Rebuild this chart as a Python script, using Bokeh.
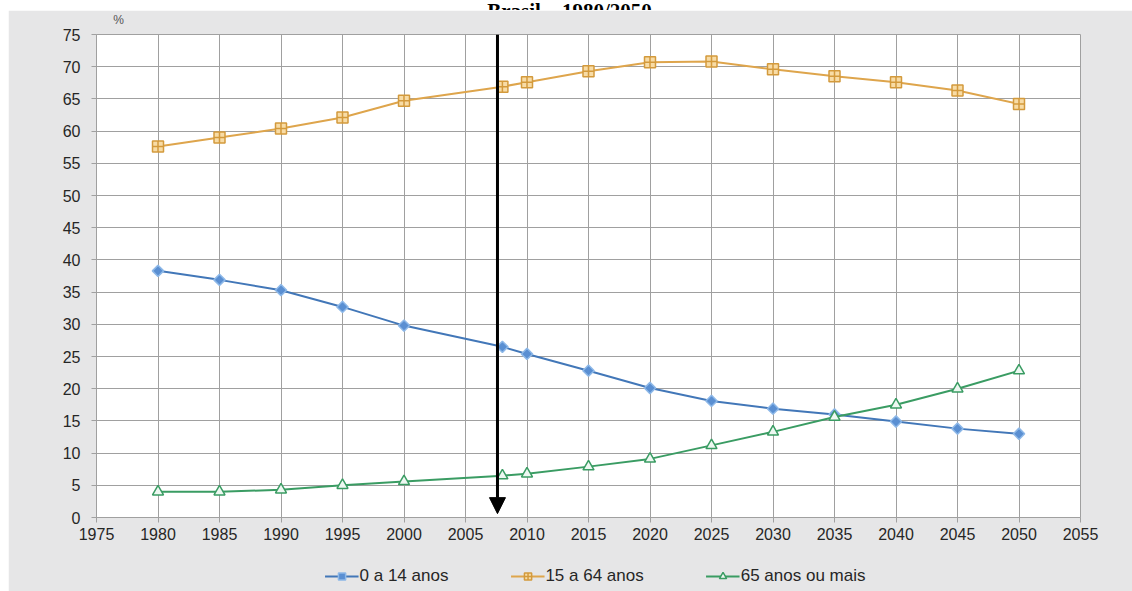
import math
from bokeh.plotting import figure
from bokeh.models import (Range1d, FixedTicker, Legend, LegendItem, Label,
                          Arrow, NormalHead, ColumnDataSource)
from bokeh.embed import file_html
from bokeh.resources import INLINE

# ---- data ----
years = [1980, 1985, 1990, 1995, 2000, 2008, 2010, 2015, 2020, 2025, 2030, 2035, 2040, 2045, 2050]
age_0_14 = [38.3, 36.9, 35.3, 32.7, 29.8, 26.5, 25.4, 22.8, 20.1, 18.1, 16.9, 16.0, 14.9, 13.8, 13.0]
age_15_64 = [57.6, 59.0, 60.4, 62.1, 64.7, 66.9, 67.6, 69.3, 70.7, 70.8, 69.6, 68.5, 67.6, 66.3, 64.2]
age_65 = [4.0, 4.0, 4.3, 5.0, 5.6, 6.5, 6.8, 7.9, 9.1, 11.2, 13.3, 15.6, 17.5, 20.0, 22.8]
series_names = ["0 a 14 anos", "15 a 64 anos", "65 anos ou mais"]
x_ticks = list(range(1975, 2056, 5))
y_ticks = list(range(0, 76, 5))
arrow_year = 2007.6
title_text = "Brasil – 1980/2050"
unit_text = "%"

GRAY_BG = "#e6e6e7"
GRID = "#a0a0a0"
TXT = "#262626"
FONT = "Liberation Sans"

# (column, line colour, marker, fill, marker line, size, angle)
styles = [
    ("a", "#4277b8", "square", "#5a8fd2", "#8db8e8", 8, math.pi / 4),
    ("b", "#dea54c", "square_cross", "#f8dca6", "#d39a3c", 11, 0.0),
    ("c", "#3a9c63", "triangle", "#eef8f2", "#3a9c63", 11, 0.0),
]

src = ColumnDataSource(dict(x=years, a=age_0_14, b=age_15_64, c=age_65))


def blank(w, h, bg, left, top_px):
    f = figure(width=w, height=h, output_backend="svg", toolbar_location=None,
               x_range=Range1d(0, 1), y_range=Range1d(0, 1),
               x_axis_location=None, y_axis_location=None, min_border=0)
    f.styles = {"position": "absolute", "left": f"{left}px", "top": f"{top_px}px"}
    f.border_fill_color = bg
    f.background_fill_color = bg
    f.outline_line_color = None
    f.grid.visible = False
    return f


# ---- strip with the (clipped) heading, on white ----
TOP_H = 10
top = blank(1132, TOP_H, "white", 0, 0)
top.add_layout(Label(x=569 / 1132, y=1.5 / TOP_H, text=title_text, text_align="center",
                     text_baseline="alphabetic", text_font="Liberation Serif",
                     text_font_style="bold", text_font_size="21px", text_color="black"))

# ---- main chart on the gray panel ----
W, H = 1124, 581
L, R, T, B = 88, 52, 24, 74

p = figure(width=W, height=H, output_backend="svg", toolbar_location=None,
           x_range=Range1d(1975, 2055), y_range=Range1d(0, 75),
           min_border_left=L, min_border_right=R, min_border_top=T, min_border_bottom=B)
p.styles = {"margin-left": "8px", "margin-top": f"{TOP_H}px"}
p.border_fill_color = GRAY_BG
p.background_fill_color = "white"
p.outline_line_color = GRID
p.outline_line_width = 1

for ax in (p.xaxis[0], p.yaxis[0]):
    ax.axis_line_color = GRID
    ax.major_tick_line_color = GRID
    ax.major_tick_in = 0
    ax.major_tick_out = 5
    ax.minor_tick_line_color = None
    ax.major_label_text_font = FONT
    ax.major_label_text_font_size = "16px"
    ax.major_label_text_color = TXT
p.xaxis[0].ticker = FixedTicker(ticks=x_ticks)
p.yaxis[0].ticker = FixedTicker(ticks=y_ticks)
p.xaxis[0].major_label_standoff = 5
p.yaxis[0].major_label_standoff = 11

p.xgrid[0].ticker = FixedTicker(ticks=x_ticks)
p.ygrid[0].ticker = FixedTicker(ticks=y_ticks)
for g in (p.xgrid[0], p.ygrid[0]):
    g.grid_line_color = GRID
    g.grid_line_width = 1

for (col, lc, mk, fc, mlc, sz, ang) in styles:
    p.line("x", col, source=src, line_color=lc, line_width=2)
    p.scatter("x", col, source=src, marker=mk, size=sz, angle=ang,
              fill_color=fc, line_color=mlc, line_width=1.5)

# arrow marking 2008
p.add_layout(Arrow(x_start=arrow_year, y_start=75, x_end=arrow_year, y_end=0.6,
                   line_color="black", line_width=3,
                   end=NormalHead(size=16, fill_color="black", line_color="black")))

# ---- "%" unit note above the y axis ----
pct = blank(16, 16, GRAY_BG, 110, 11)
pct.add_layout(Label(x=0.5, y=0.5, text=unit_text, text_align="center",
                     text_baseline="middle", text_font=FONT,
                     text_font_size="12px", text_color="#555555"))

# ---- legend strip below the chart ----
leg = blank(600, 28, GRAY_BG, 295, 562)
items = []
for name, (col, lc, mk, fc, mlc, sz, ang) in zip(series_names, styles):
    ln = leg.line("x", col, source=src, line_color=lc, line_width=2)
    sc = leg.scatter("x", col, source=src, marker=mk, size=sz, angle=ang,
                     fill_color=fc, line_color=mlc, line_width=1.5)
    items.append(LegendItem(label=name, renderers=[ln, sc]))
legend = Legend(items=items, location="center", orientation="horizontal",
                background_fill_alpha=0, border_line_color=None,
                padding=0, margin=0, spacing=62, glyph_width=34, glyph_height=18,
                label_standoff=1, label_text_font=FONT, label_text_font_size="17px",
                label_text_color=TXT)
leg.add_layout(legend, "center")

open("out.html", "w").write(file_html([top, p, pct, leg], INLINE))
